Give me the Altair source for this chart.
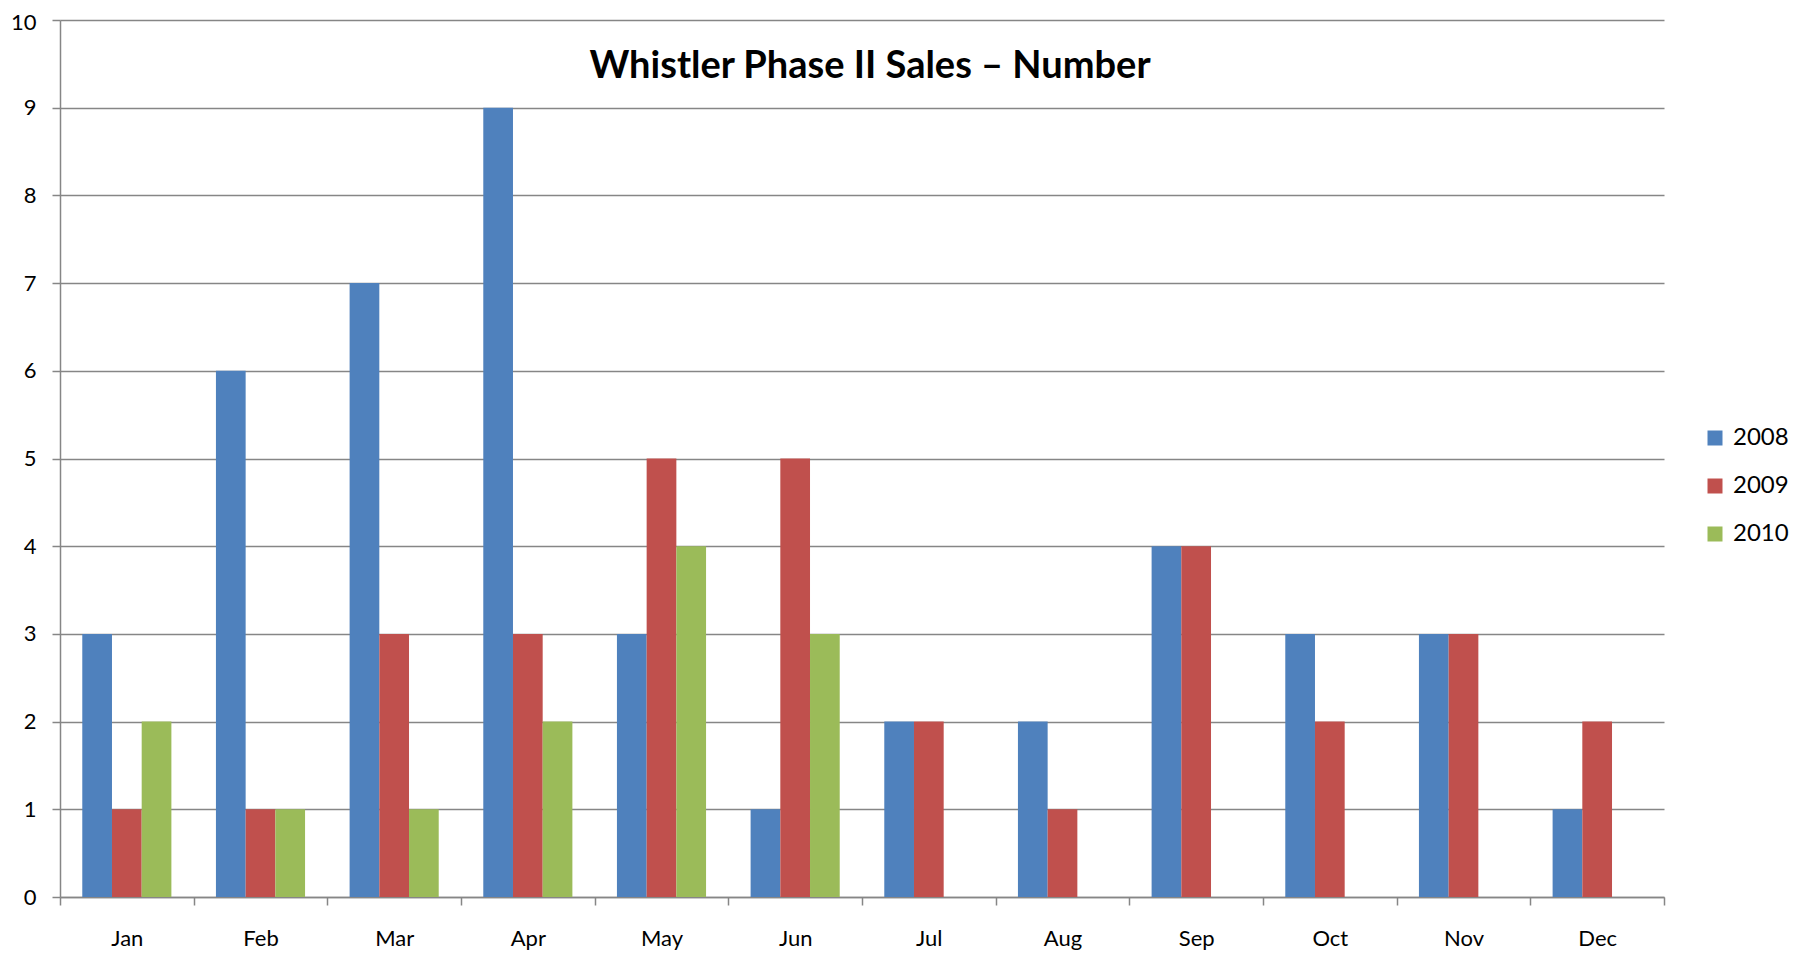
import altair as alt
import pandas as pd

months = ["Jan", "Feb", "Mar", "Apr", "May", "Jun", "Jul", "Aug", "Sep", "Oct", "Nov", "Dec"]
years = ["2008", "2009", "2010"]
s2008 = [3, 6, 7, 9, 3, 1, 2, 2, 4, 3, 3, 1]
s2009 = [1, 1, 3, 3, 5, 5, 2, 1, 4, 2, 3, 2]
s2010 = [2, 1, 1, 2, 4, 3, None, None, None, None, None, None]
colors = ["#4F81BD", "#C0504D", "#9BBB59"]
title_text = "Whistler Phase II Sales \u2013 Number"
y_ticks = list(range(0, 11))

rows = []
for year, vals in zip(years, [s2008, s2009, s2010]):
    for m, v in zip(months, vals):
        if v is not None:
            rows.append({"month": m, "year": year, "value": v})
df = pd.DataFrame(rows)

W, H = 1604, 877
GRAY = "#868686"
FONT = "Lato"

bars = alt.Chart(df).mark_bar(strokeWidth=0).encode(
    x=alt.X("month:N", sort=months,
            scale=alt.Scale(domain=months, paddingInner=0, paddingOuter=0),
            axis=alt.Axis(title=None, tickBand="extent", labelAngle=0, grid=False,
                          tickSize=8, labelPadding=23, labelFontSize=22)),
    xOffset=alt.XOffset("year:N", scale=alt.Scale(domain=years, paddingInner=0, paddingOuter=0.75)),
    y=alt.Y("value:Q", scale=alt.Scale(domain=[0, 10], nice=False),
            axis=alt.Axis(title=None, values=y_ticks, grid=True, tickSize=8,
                          labelPadding=16, labelFontSize=22,
                          labelOffset={"condition": {"test": "datum.value == 10", "value": 2}, "value": 0})),
    color=alt.Color("year:N", scale=alt.Scale(domain=years, range=colors),
                    legend=alt.Legend(title=None, orient="none", legendX=1643, legendY=406,
                                      symbolType="square", symbolSize=225, symbolStrokeWidth=0,
                                      symbolOpacity=1, labelFontSize=24, labelFont=FONT,
                                      labelColor="black", labelOffset=6, rowPadding=24, padding=0)),
)

title_df = pd.DataFrame({"t": [title_text]})
title = alt.Chart(title_df).mark_text(
    font=FONT, fontWeight="bold", fontSize=38, baseline="alphabetic", align="center", color="black"
).encode(text="t:N", x=alt.value(870 - 60), y=alt.value(58))

chart = alt.layer(bars, title).properties(
    width=W, height=H,
    autosize=alt.AutoSizeParams(type="none"),
    padding={"left": 52, "top": 12, "right": 127, "bottom": 58},
).configure_view(stroke=None).configure_axis(
    domainColor=GRAY, domainWidth=1.5, tickColor=GRAY, tickWidth=1.5,
    gridColor=GRAY, gridWidth=1.5, labelFont=FONT, labelColor="black",
)

chart.save("out.html", embed_options={"renderer": "svg", "actions": False})
